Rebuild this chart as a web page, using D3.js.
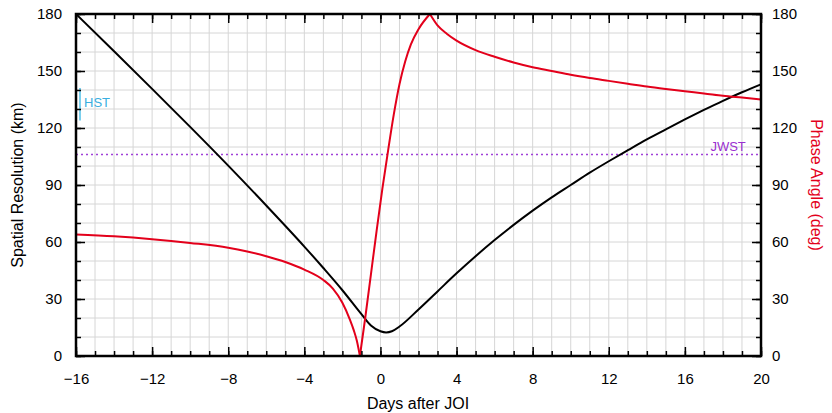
<!DOCTYPE html>
<html>
<head>
<meta charset="utf-8">
<script src="https://cdn.jsdelivr.net/npm/d3@7"></script>
<style>
  body { margin: 0; background: #fff; }
  text { font-family: "Liberation Sans", Arial, sans-serif; }
  .grid line { stroke: #d6d6d6; stroke-width: 1; }
  .axis path { display: none; }
  .axis line { stroke: #000; stroke-width: 1.5; }
</style>
</head>
<body>
<div id="chart"></div>
<script>
// x ticks every 4 days, y ticks every 30
const xMajor = d3.range(-16, 21, 4);
const xMinor = d3.range(-16, 21, 1);
const yMajor = d3.range(0, 181, 30);
const yMinor = d3.range(0, 181, 10);

// spatial resolution (km)
const resDays = [-16, -14, -12, -10, -8, -6, -4, -3, -2, -1, -0.5, 0, 0.3, 0.6, 1, 2, 3, 4, 5, 6, 7, 8, 9, 10, 11, 12, 13, 14, 15, 16, 17, 18, 19, 20];
const resKm   = [180, 160.4, 140.6, 120.6, 100.2, 79.2, 57.6, 46.3, 34.6, 22, 16, 13, 12.4, 13, 15.5, 24.5, 34, 43.5, 52.5, 61, 69, 76.5, 83.5, 90, 96.5, 102.5, 108.3, 114, 119.3, 124.5, 129.5, 134.3, 138.8, 143];

// phase angle (deg), split at the two cusps
const phaseInDays  = [-16, -14, -12, -10, -8, -7, -6, -5, -4, -3, -2.5, -2, -1.6, -1.4, -1.24, -1.08];
const phaseInDeg   = [64, 63, 61.5, 59.5, 57, 55, 52.5, 49.5, 45.5, 40, 35.5, 28, 19, 13.5, 8, 0];
const phaseUpDays  = [-1.08, -0.8, -0.5, -0.2, 0.1, 0.4, 0.7, 1.0, 1.3, 1.6, 2, 2.6];
const phaseUpDeg   = [0, 20, 43, 66, 88, 108, 127, 143, 155, 164, 172, 180];
const phaseOutDays = [2.6, 3, 3.5, 4, 5, 6, 7, 8, 9, 10, 11, 12, 13, 14, 15, 16, 17, 18, 19, 20];
const phaseOutDeg  = [180, 174, 169.5, 166, 161, 157.5, 154.5, 152, 150, 148, 146.3, 144.8, 143.3, 141.8, 140.5, 139.3, 138.2, 137, 136, 135];

const jwstKm = 106;
const hstKm = [124, 141];

const margin = {top: 14, right: 71, bottom: 57, left: 76};
const W = 832, H = 413;
const width = W - margin.left - margin.right;
const height = H - margin.top - margin.bottom;

const svg = d3.select('#chart').append('svg')
    .attr('width', W)
    .attr('height', H);

const g = svg.append('g')
    .attr('transform', `translate(${margin.left},${margin.top})`);

const x = d3.scaleLinear().domain([-16, 20]).range([0, width]);
const y = d3.scaleLinear().domain([0, 180]).range([height, 0]);
const y2 = d3.scaleLinear().domain([0, 180]).range([height, 0]);

// grid
g.append('g').attr('class', 'grid')
  .selectAll('line').data(xMinor).join('line')
    .attr('x1', d => x(d)).attr('x2', d => x(d))
    .attr('y1', 0).attr('y2', height);
g.append('g').attr('class', 'grid')
  .selectAll('line').data(yMinor).join('line')
    .attr('y1', d => y(d)).attr('y2', d => y(d))
    .attr('x1', 0).attr('x2', width);

// JWST line
g.append('line')
    .attr('x1', 0).attr('x2', width)
    .attr('y1', y(jwstKm)).attr('y2', y(jwstKm))
    .attr('stroke', '#a040d8')
    .attr('stroke-width', 1.5)
    .attr('stroke-dasharray', '2,3');
g.append('text')
    .attr('x', x(19.2)).attr('y', y(jwstKm) - 4)
    .attr('text-anchor', 'end')
    .attr('fill', '#9a2fd0')
    .style('font-size', '13px')
    .text('JWST');

// HST marker
g.append('line')
    .attr('x1', 4).attr('x2', 4)
    .attr('y1', y(hstKm[0])).attr('y2', y(hstKm[1]))
    .attr('stroke', '#4fc0e8')
    .attr('stroke-width', 1.5);
g.append('text')
    .attr('x', 8).attr('y', y(131))
    .attr('fill', '#3aaee0')
    .style('font-size', '13px')
    .text('HST');

const lineRes = d3.line().x(d => x(d[0])).y(d => y(d[1])).curve(d3.curveMonotoneX);
const linePhase = d3.line().x(d => x(d[0])).y(d => y2(d[1])).curve(d3.curveMonotoneX);

g.append('path')
    .datum(d3.zip(resDays, resKm))
    .attr('fill', 'none')
    .attr('stroke', '#000')
    .attr('stroke-width', 2)
    .attr('d', lineRes);

[[phaseInDays, phaseInDeg], [phaseUpDays, phaseUpDeg], [phaseOutDays, phaseOutDeg]].forEach(s => {
  g.append('path')
      .datum(d3.zip(s[0], s[1]))
      .attr('fill', 'none')
      .attr('stroke', '#e3001b')
      .attr('stroke-width', 2)
      .attr('stroke-linejoin', 'round')
      .attr('d', linePhase);
});

// axes, ticks pointing inward
function tickAxis(axis, tf, values, size, labels, pad) {
  const a = axis.tickValues(values).tickSize(-size).tickPadding(pad);
  if (!labels) a.tickFormat('');
  const sel = g.append('g').attr('class', 'axis').attr('transform', tf).call(a);
  sel.selectAll('text').style('font-size', '15px').attr('fill', '#000');
  return sel;
}
tickAxis(d3.axisBottom(x), `translate(0,${height})`, xMinor, 5, false, 0);
tickAxis(d3.axisBottom(x), `translate(0,${height})`, xMajor, 9, true, 17);
tickAxis(d3.axisTop(x), 'translate(0,0)', xMinor, 5, false, 0);
tickAxis(d3.axisTop(x), 'translate(0,0)', xMajor, 9, false, 0);
tickAxis(d3.axisLeft(y), 'translate(0,0)', yMinor, 5, false, 0);
tickAxis(d3.axisLeft(y), 'translate(0,0)', yMajor, 9, true, 14);
tickAxis(d3.axisRight(y2), `translate(${width},0)`, yMinor, 5, false, 0);
tickAxis(d3.axisRight(y2), `translate(${width},0)`, yMajor, 9, true, 11);

// frame
g.append('rect')
    .attr('width', width).attr('height', height)
    .attr('fill', 'none')
    .attr('stroke', '#000')
    .attr('stroke-width', 2.5);

// titles
svg.append('text')
    .attr('transform', `translate(17,${margin.top + height / 2}) rotate(-90)`)
    .attr('text-anchor', 'middle')
    .attr('dy', '0.35em')
    .style('font-size', '16px')
    .text('Spatial Resolution (km)');
svg.append('text')
    .attr('transform', `translate(817,${margin.top + height / 2}) rotate(90)`)
    .attr('text-anchor', 'middle')
    .attr('dy', '0.35em')
    .attr('fill', '#e3001b')
    .style('font-size', '16px')
    .text('Phase Angle (deg)');
svg.append('text')
    .attr('x', 418).attr('y', 409)
    .attr('text-anchor', 'middle')
    .style('font-size', '16px')
    .text('Days after JOI');
</script>
</body>
</html>
